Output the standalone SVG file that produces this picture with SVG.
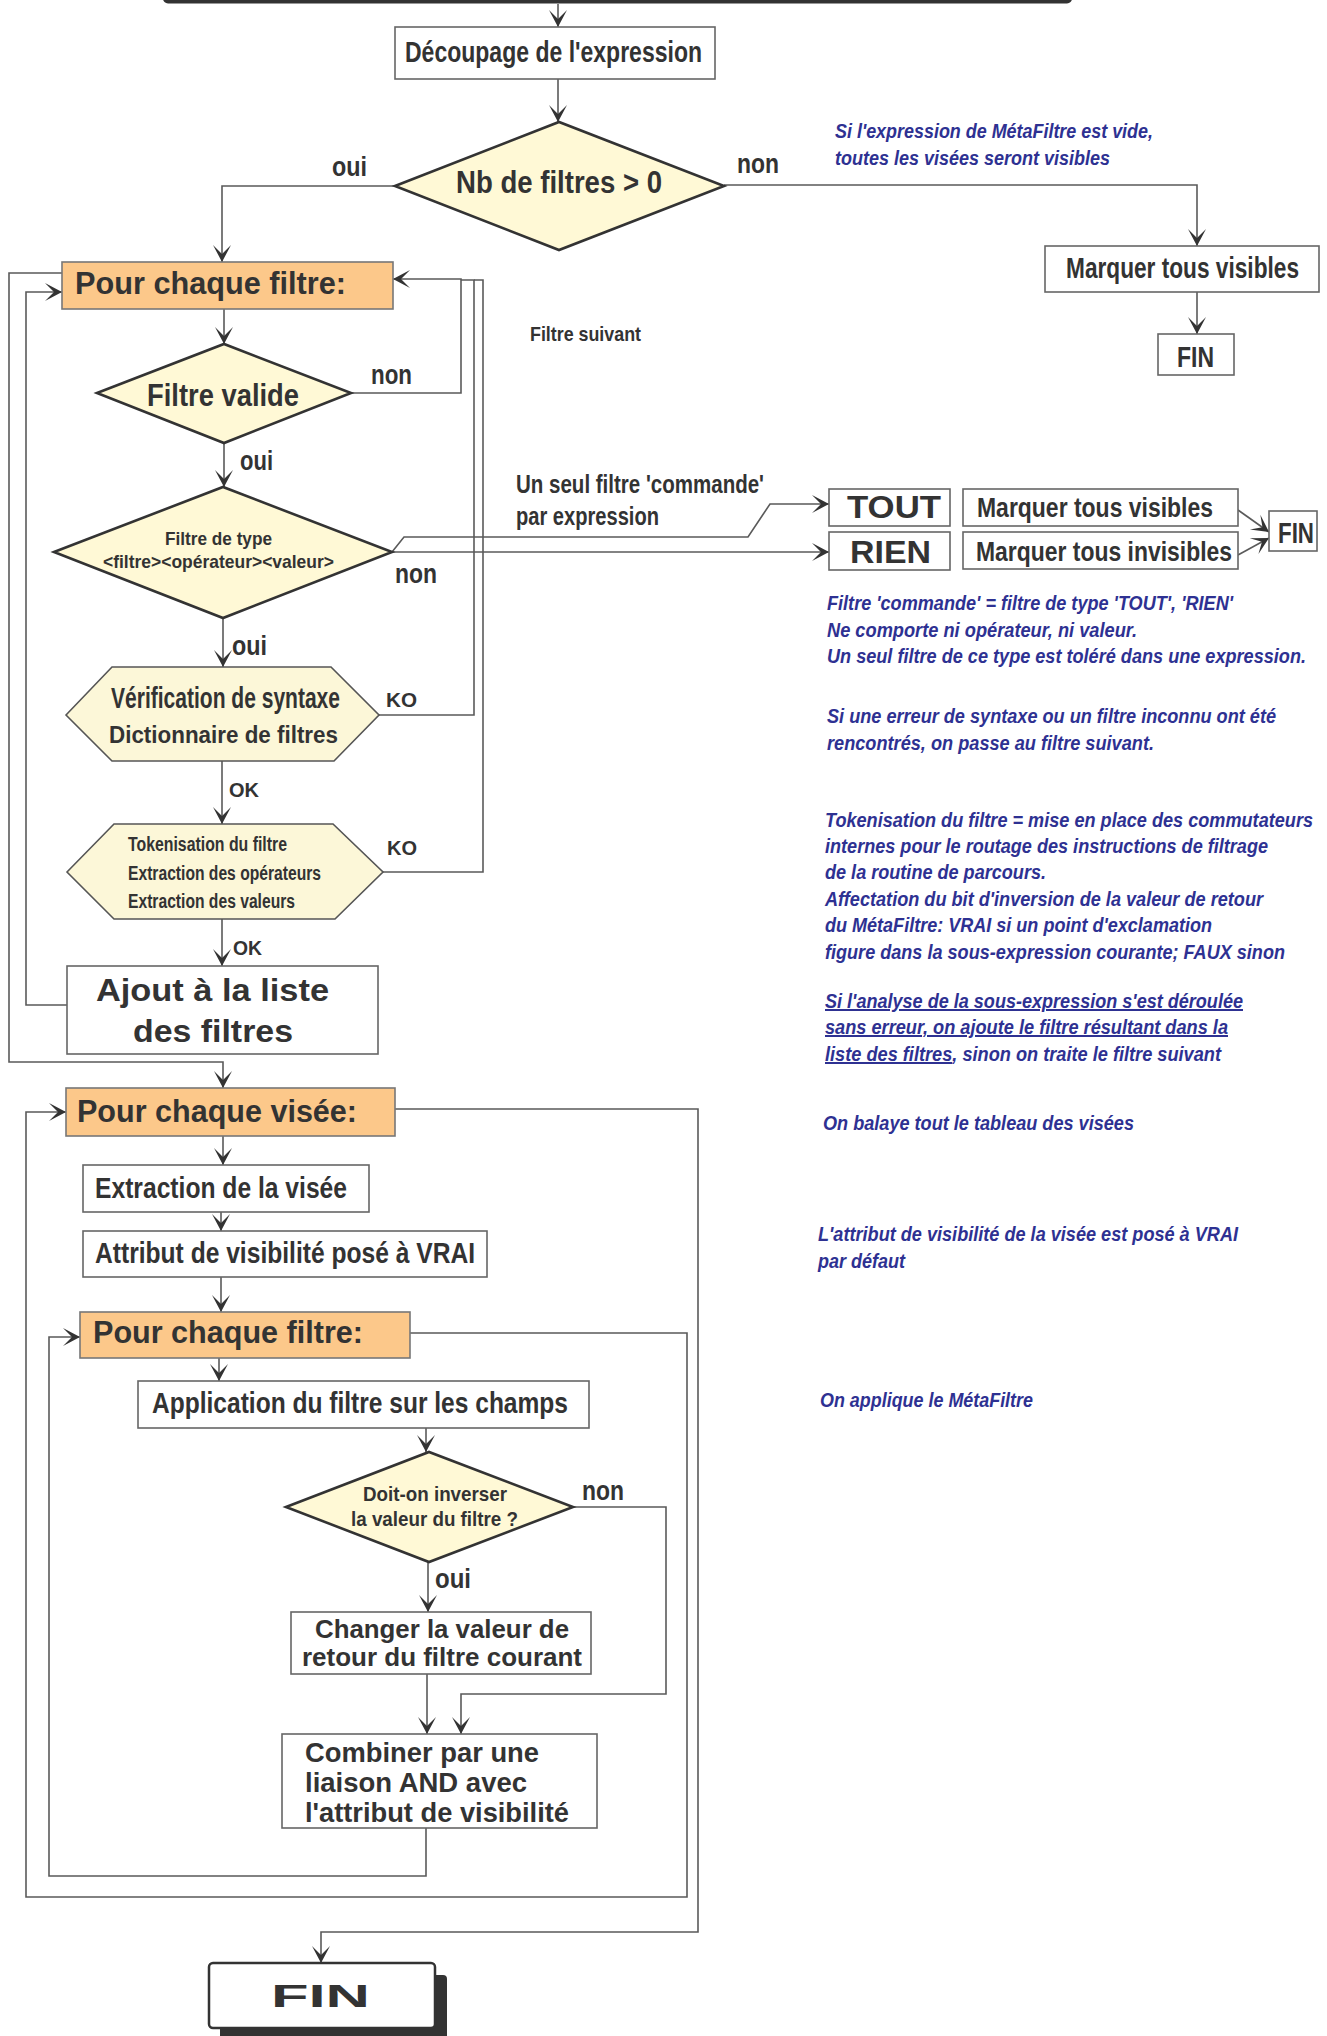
<svg xmlns="http://www.w3.org/2000/svg" width="1327" height="2036" viewBox="0 0 1327 2036">
<defs>
<style>
.bx{fill:#fff;stroke:#666;stroke-width:1.6}
.or{fill:#FCC88A;stroke:#777;stroke-width:1.6}
.dm{fill:#FFF9D6;stroke:#333;stroke-width:2.6}
.hx{fill:#FCF7D8;stroke:#555;stroke-width:1.6}
.c{fill:none;stroke:#5a5a5a;stroke-width:1.6}
.ca{fill:none;stroke:#5a5a5a;stroke-width:1.6;marker-end:url(#arr)}
text{fill:#333}
.n{font-family:"Liberation Sans Narrow","Liberation Sans",Arial,sans-serif;font-weight:bold}
.b{font-family:"Liberation Sans",Arial,sans-serif;font-weight:bold}
.bl{font-family:"Liberation Sans Narrow","Liberation Sans",Arial,sans-serif;font-weight:bold;font-style:italic;fill:#2E3192;font-size:20px}
</style>
<marker id="arr" viewBox="-18 -10 20 20" refX="0" refY="0" markerWidth="20" markerHeight="20" orient="auto" markerUnits="userSpaceOnUse">
<path d="M0,0 L-17,-9 L-8,0 L-17,9 Z" fill="#333"/>
</marker>
</defs>

<g id="connectors">
<path class="ca" d="M558,4 V27"/>
<path class="ca" d="M558,79 V122"/>
<path class="ca" d="M395,186 H222 V262"/>
<path class="ca" d="M724,185 H1197 V246"/>
<path class="ca" d="M1197,292 V334"/>
<path class="ca" d="M224,309 V344"/>
<path class="ca" d="M351,393 H461 V279 H393"/>
<path class="ca" d="M224,443 V487"/>
<path class="ca" d="M392,552 L404,537 H748 L770,504 H829"/>
<path class="ca" d="M392,552 H829"/>
<path class="ca" d="M223,618 V667"/>
<path class="c" d="M379,715 H474 V280 H461"/>
<path class="ca" d="M222,761 V824"/>
<path class="c" d="M383,872 H483 V280 H474"/>
<path class="ca" d="M222,919 V966"/>
<path class="ca" d="M67,1005 H26 V292 H62"/>
<path class="ca" d="M62,273 H9 V1062 H223 V1088"/>
<path class="ca" d="M1238,510 L1269,532"/>
<path class="ca" d="M1238,555 L1269,538"/>
<path class="ca" d="M223,1136 V1165"/>
<path class="ca" d="M221,1212 V1231"/>
<path class="ca" d="M221,1277 V1312"/>
<path class="ca" d="M219,1358 V1381"/>
<path class="ca" d="M426,1428 V1452"/>
<path class="ca" d="M428,1562 V1612"/>
<path class="ca" d="M573,1507 H666 V1694 H461 V1734"/>
<path class="ca" d="M427,1674 V1734"/>
<path class="ca" d="M426,1828 V1876 H49 V1337 H80"/>
<path class="ca" d="M410,1333 H687 V1897 H26 V1112 H66"/>
<path class="ca" d="M395,1109 H698 V1932 H321 V1963"/>
</g>

<g id="start"><rect x="163" y="-30" width="909" height="33.5" rx="5" fill="#333"/></g>

<g id="decoupage"><rect class="bx" x="395" y="27" width="320" height="52"/>
<text class="n" x="405" y="62" font-size="30" textLength="297" lengthAdjust="spacingAndGlyphs">Découpage de l'expression</text></g>

<g id="nbfiltres"><polygon class="dm" points="395,186 559,122 724,186 559,250"/>
<text class="n" x="456" y="193" font-size="32" textLength="206" lengthAdjust="spacingAndGlyphs">Nb de filtres &gt; 0</text></g>
<text class="n" x="332" y="176" font-size="27" textLength="35" lengthAdjust="spacingAndGlyphs">oui</text>
<text class="n" x="737" y="173" font-size="27" textLength="42" lengthAdjust="spacingAndGlyphs">non</text>

<g id="note1">
<text class="bl" x="835" y="138" textLength="318" lengthAdjust="spacingAndGlyphs">Si l'expression de MétaFiltre est vide,</text>
<text class="bl" x="835" y="165" textLength="275" lengthAdjust="spacingAndGlyphs">toutes les visées seront visibles</text>
</g>

<g id="marquer1"><rect class="bx" x="1045" y="246" width="274" height="46"/>
<text class="n" x="1066" y="278" font-size="29" textLength="233" lengthAdjust="spacingAndGlyphs">Marquer tous visibles</text></g>
<g id="fin1"><rect class="bx" x="1158" y="334" width="76" height="41"/>
<text class="n" x="1177" y="367" font-size="30" textLength="37" lengthAdjust="spacingAndGlyphs">FIN</text></g>

<g id="pourfiltre1"><rect class="or" x="62" y="262" width="331" height="47"/>
<text class="n" x="75" y="294" font-size="31" textLength="271" lengthAdjust="spacingAndGlyphs">Pour chaque filtre:</text></g>

<text class="n" x="530" y="341" font-size="21" textLength="111" lengthAdjust="spacingAndGlyphs">Filtre suivant</text>

<g id="filtrevalide"><polygon class="dm" points="97,393 224,344 351,393 224,443"/>
<text class="n" x="147" y="406" font-size="32" textLength="152" lengthAdjust="spacingAndGlyphs">Filtre valide</text></g>
<text class="n" x="371" y="384" font-size="27" textLength="41" lengthAdjust="spacingAndGlyphs">non</text>
<text class="n" x="240" y="470" font-size="27" textLength="33" lengthAdjust="spacingAndGlyphs">oui</text>

<g id="filtretype"><polygon class="dm" points="54,552 223,487 392,552 223,618"/>
<text class="n" x="165" y="545" font-size="19" textLength="107" lengthAdjust="spacingAndGlyphs">Filtre de type</text>
<text class="n" x="103" y="568" font-size="19" textLength="231" lengthAdjust="spacingAndGlyphs">&lt;filtre&gt;&lt;opérateur&gt;&lt;valeur&gt;</text></g>
<text class="n" x="395" y="583" font-size="27" textLength="42" lengthAdjust="spacingAndGlyphs">non</text>
<text class="n" x="232" y="655" font-size="27" textLength="35" lengthAdjust="spacingAndGlyphs">oui</text>

<text class="n" x="516" y="493" font-size="25" textLength="248" lengthAdjust="spacingAndGlyphs">Un seul filtre 'commande'</text>
<text class="n" x="516" y="525" font-size="25" textLength="143" lengthAdjust="spacingAndGlyphs">par expression</text>

<g id="tout"><rect class="bx" x="829" y="489" width="121" height="37"/>
<text class="b" x="847" y="518" font-size="31" textLength="94" lengthAdjust="spacingAndGlyphs">TOUT</text></g>
<g id="rien"><rect class="bx" x="829" y="532" width="121" height="38"/>
<text class="b" x="850" y="563" font-size="31" textLength="81" lengthAdjust="spacingAndGlyphs">RIEN</text></g>
<g id="marquer2"><rect class="bx" x="963" y="489" width="275" height="37"/>
<text class="n" x="977" y="517" font-size="28" textLength="236" lengthAdjust="spacingAndGlyphs">Marquer tous visibles</text></g>
<g id="marquer3"><rect class="bx" x="963" y="532" width="275" height="37"/>
<text class="n" x="976" y="561" font-size="28" textLength="256" lengthAdjust="spacingAndGlyphs">Marquer tous invisibles</text></g>
<g id="fin2"><rect class="bx" x="1269" y="511" width="48" height="40"/>
<text class="n" x="1278" y="543" font-size="29" textLength="36" lengthAdjust="spacingAndGlyphs">FIN</text></g>

<g id="note2">
<text class="bl" x="827" y="610" textLength="406" lengthAdjust="spacingAndGlyphs">Filtre 'commande' = filtre de type 'TOUT', 'RIEN'</text>
<text class="bl" x="827" y="637" textLength="310" lengthAdjust="spacingAndGlyphs">Ne comporte ni opérateur, ni valeur.</text>
<text class="bl" x="827" y="663" textLength="479" lengthAdjust="spacingAndGlyphs">Un seul filtre de ce type est toléré dans une expression.</text>
</g>
<g id="note3">
<text class="bl" x="827" y="723" textLength="449" lengthAdjust="spacingAndGlyphs">Si une erreur de syntaxe ou un filtre inconnu ont été</text>
<text class="bl" x="827" y="750" textLength="327" lengthAdjust="spacingAndGlyphs">rencontrés, on passe au filtre suivant.</text>
</g>
<g id="note4">
<text class="bl" x="825" y="827" textLength="488" lengthAdjust="spacingAndGlyphs">Tokenisation du filtre = mise en place des commutateurs</text>
<text class="bl" x="825" y="853" textLength="443" lengthAdjust="spacingAndGlyphs">internes pour le routage des instructions de filtrage</text>
<text class="bl" x="825" y="879" textLength="221" lengthAdjust="spacingAndGlyphs">de la routine de parcours.</text>
<text class="bl" x="825" y="906" textLength="438" lengthAdjust="spacingAndGlyphs">Affectation du bit d'inversion de la valeur de retour</text>
<text class="bl" x="825" y="932" textLength="387" lengthAdjust="spacingAndGlyphs">du MétaFiltre: VRAI si un point d'exclamation</text>
<text class="bl" x="825" y="959" textLength="460" lengthAdjust="spacingAndGlyphs">figure dans la sous-expression courante; FAUX sinon</text>
</g>
<g id="note5">
<text class="bl" x="825" y="1008" textLength="418" lengthAdjust="spacingAndGlyphs" text-decoration="underline">Si l'analyse de la sous-expression s'est déroulée</text>
<text class="bl" x="825" y="1034" textLength="403" lengthAdjust="spacingAndGlyphs" text-decoration="underline">sans erreur, on ajoute le filtre résultant dans la</text>
<text class="bl" x="825" y="1061" textLength="396" lengthAdjust="spacingAndGlyphs"><tspan text-decoration="underline">liste des filtres</tspan>, sinon on traite le filtre suivant</text>
</g>

<g id="verification"><polygon class="hx" points="66,715 112,667 331,667 379,715 334,761 112,761"/>
<text class="n" x="111" y="708" font-size="30" textLength="229" lengthAdjust="spacingAndGlyphs">Vérification de syntaxe</text>
<text class="b" x="109" y="743" font-size="23" textLength="229" lengthAdjust="spacingAndGlyphs">Dictionnaire de filtres</text></g>
<text class="b" x="386" y="707" font-size="21" textLength="31" lengthAdjust="spacingAndGlyphs">KO</text>
<text class="b" x="229" y="797" font-size="21" textLength="30" lengthAdjust="spacingAndGlyphs">OK</text>

<g id="tokenisation"><polygon class="hx" points="67,872 114,824 333,824 383,872 335,919 114,919"/>
<text class="n" x="128" y="851" font-size="20" textLength="159" lengthAdjust="spacingAndGlyphs">Tokenisation du filtre</text>
<text class="n" x="128" y="880" font-size="20" textLength="193" lengthAdjust="spacingAndGlyphs">Extraction des opérateurs</text>
<text class="n" x="128" y="908" font-size="20" textLength="167" lengthAdjust="spacingAndGlyphs">Extraction des valeurs</text></g>
<text class="b" x="387" y="855" font-size="21" textLength="30" lengthAdjust="spacingAndGlyphs">KO</text>
<text class="b" x="233" y="955" font-size="21" textLength="29" lengthAdjust="spacingAndGlyphs">OK</text>

<g id="ajout"><rect class="bx" x="67" y="966" width="311" height="88"/>
<text class="b" x="96" y="1001" font-size="32" textLength="233" lengthAdjust="spacingAndGlyphs">Ajout à la liste</text>
<text class="b" x="133" y="1042" font-size="32" textLength="160" lengthAdjust="spacingAndGlyphs">des filtres</text></g>

<g id="pourvisee"><rect class="or" x="66" y="1088" width="329" height="48"/>
<text class="n" x="77" y="1122" font-size="31" textLength="280" lengthAdjust="spacingAndGlyphs">Pour chaque visée:</text></g>
<text class="bl" x="823" y="1130" textLength="311" lengthAdjust="spacingAndGlyphs">On balaye tout le tableau des visées</text>

<g id="extraction"><rect class="bx" x="83" y="1165" width="286" height="47"/>
<text class="n" x="95" y="1198" font-size="30" textLength="252" lengthAdjust="spacingAndGlyphs">Extraction de la visée</text></g>
<g id="attribut"><rect class="bx" x="83" y="1231" width="404" height="46"/>
<text class="n" x="95" y="1263" font-size="30" textLength="380" lengthAdjust="spacingAndGlyphs">Attribut de visibilité posé à VRAI</text></g>
<text class="bl" x="818" y="1241" textLength="420" lengthAdjust="spacingAndGlyphs">L'attribut de visibilité de la visée est posé à VRAI</text>
<text class="bl" x="818" y="1268" textLength="87" lengthAdjust="spacingAndGlyphs">par défaut</text>

<g id="pourfiltre2"><rect class="or" x="80" y="1312" width="330" height="46"/>
<text class="n" x="93" y="1343" font-size="31" textLength="270" lengthAdjust="spacingAndGlyphs">Pour chaque filtre:</text></g>

<g id="application"><rect class="bx" x="138" y="1381" width="451" height="47"/>
<text class="n" x="152" y="1413" font-size="30" textLength="416" lengthAdjust="spacingAndGlyphs">Application du filtre sur les champs</text></g>
<text class="bl" x="820" y="1407" textLength="213" lengthAdjust="spacingAndGlyphs">On applique le MétaFiltre</text>

<g id="inverser"><polygon class="dm" points="286,1507 429,1452 573,1507 429,1562"/>
<text class="n" x="363" y="1501" font-size="21" textLength="144" lengthAdjust="spacingAndGlyphs">Doit-on inverser</text>
<text class="n" x="351" y="1526" font-size="21" textLength="167" lengthAdjust="spacingAndGlyphs">la valeur du filtre ?</text></g>
<text class="n" x="582" y="1500" font-size="27" textLength="42" lengthAdjust="spacingAndGlyphs">non</text>
<text class="n" x="435" y="1588" font-size="27" textLength="36" lengthAdjust="spacingAndGlyphs">oui</text>

<g id="changer"><rect class="bx" x="291" y="1612" width="300" height="62"/>
<text class="b" x="315" y="1638" font-size="25" textLength="254" lengthAdjust="spacingAndGlyphs">Changer la valeur de</text>
<text class="b" x="302" y="1666" font-size="25" textLength="280" lengthAdjust="spacingAndGlyphs">retour du filtre courant</text></g>

<g id="combiner"><rect class="bx" x="282" y="1734" width="315" height="94"/>
<text class="b" x="305" y="1762" font-size="27" textLength="234" lengthAdjust="spacingAndGlyphs">Combiner par une</text>
<text class="b" x="305" y="1792" font-size="27" textLength="222" lengthAdjust="spacingAndGlyphs">liaison AND avec</text>
<text class="b" x="305" y="1822" font-size="27" textLength="264" lengthAdjust="spacingAndGlyphs">l'attribut de visibilité</text></g>

<g id="fin3"><rect x="220" y="1975" width="227" height="75" rx="4" fill="#333"/>
<rect x="209" y="1963" width="226" height="65" rx="4" fill="#fff" stroke="#333" stroke-width="2.5"/>
<text class="b" x="271" y="2007" font-size="31" textLength="99" lengthAdjust="spacingAndGlyphs">FIN</text></g>
</svg>
